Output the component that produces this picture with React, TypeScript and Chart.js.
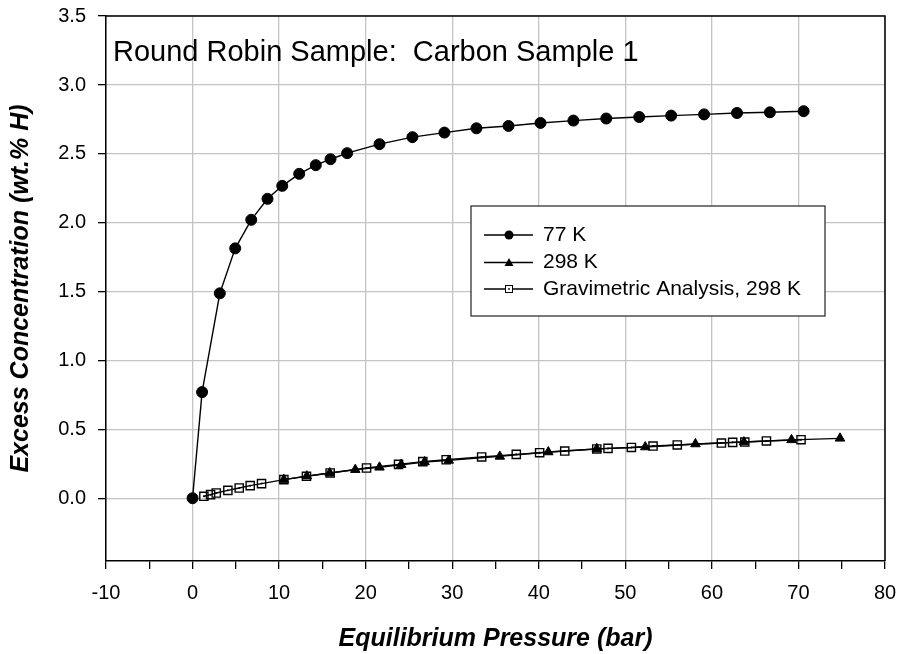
import React, { useEffect, useRef } from 'react';
import { Chart, registerables } from 'chart.js';

Chart.register(...registerables);

const chartTitle = 'Round Robin Sample:  Carbon Sample 1';
const xAxisTitle = 'Equilibrium Pressure (bar)';
const yAxisTitle = 'Excess Concentration (wt.% H)';
const seriesLabels = ['77 K', '298 K', 'Gravimetric Analysis, 298 K'];

// 77 K
const pressure77 = [0, 1.1, 3.15, 4.93, 6.78, 8.66, 10.36, 12.32, 14.24, 15.94, 17.86, 21.6, 25.4, 29.1, 32.8, 36.5, 40.2, 44.0, 47.8, 51.6, 55.3, 59.1, 62.9, 66.7, 70.6];
const conc77 = [0.005, 0.774, 1.49, 1.816, 2.023, 2.175, 2.269, 2.356, 2.419, 2.462, 2.506, 2.571, 2.622, 2.655, 2.686, 2.703, 2.725, 2.742, 2.757, 2.768, 2.778, 2.787, 2.797, 2.802, 2.81];

// 298 K
const pressure298 = [10.55, 13.2, 15.85, 18.8, 21.6, 24.1, 26.8, 29.6, 35.5, 41.1, 46.7, 52.3, 58.1, 63.7, 69.2, 74.8];
const conc298 = [0.14, 0.165, 0.188, 0.212, 0.229, 0.248, 0.268, 0.279, 0.308, 0.34, 0.363, 0.376, 0.398, 0.412, 0.428, 0.439];

// Gravimetric analysis, 298 K
const pressureGrav = [1.31, 2.08, 2.74, 4.08, 5.39, 6.66, 7.97, 10.55, 13.16, 15.9, 20.1, 23.8, 26.6, 29.3, 33.4, 37.4, 40.1, 43.0, 46.7, 48.0, 50.7, 53.2, 56.0, 61.1, 62.4, 63.8, 66.3, 70.3];
const concGrav = [0.019, 0.031, 0.043, 0.062, 0.079, 0.096, 0.111, 0.14, 0.164, 0.188, 0.224, 0.25, 0.27, 0.284, 0.304, 0.323, 0.335, 0.347, 0.362, 0.366, 0.373, 0.383, 0.391, 0.405, 0.41, 0.412, 0.42, 0.429];

const xTicks = [-10, -5, 0, 5, 10, 15, 20, 25, 30, 35, 40, 45, 50, 55, 60, 65, 70, 75, 80];
const yTicks = [0, 0.5, 1, 1.5, 2, 2.5, 3, 3.5];

const FONT = '"Liberation Sans", Arial, Helvetica, sans-serif';

const toPoints = (xs: number[], ys: number[]) => xs.map((x, i) => ({ x, y: ys[i] }));

const decorPlugin = {
  id: 'decor',
  afterDraw(chart: any) {
    const { ctx, chartArea: a } = chart;
    ctx.save();
    // top and right frame
    ctx.strokeStyle = '#000';
    ctx.lineWidth = 1.5;
    ctx.beginPath();
    ctx.moveTo(a.left, a.top);
    ctx.lineTo(a.right, a.top);
    ctx.lineTo(a.right, a.bottom);
    ctx.stroke();

    // in-plot title
    ctx.fillStyle = '#000';
    ctx.font = `29px ${FONT}`;
    ctx.textAlign = 'left';
    ctx.textBaseline = 'alphabetic';
    ctx.fillText(chartTitle, a.left + 7, a.top + 45);

    // legend box
    const bx = a.left + 365;
    const by = a.top + 190;
    const bw = 354;
    const bh = 110;
    ctx.fillStyle = '#fff';
    ctx.fillRect(bx, by, bw, bh);
    ctx.strokeStyle = '#222';
    ctx.lineWidth = 1.2;
    ctx.strokeRect(bx, by, bw, bh);

    const rows = [by + 29, by + 56.5, by + 83];
    const lx0 = bx + 13;
    const lx1 = bx + 62;
    const mx = bx + 38;
    ctx.font = `21px ${FONT}`;
    ctx.textBaseline = 'middle';
    seriesLabels.forEach((label, i) => {
      const y = rows[i];
      ctx.strokeStyle = '#000';
      ctx.lineWidth = 1.3;
      ctx.beginPath();
      ctx.moveTo(lx0, y);
      ctx.lineTo(lx1, y);
      ctx.stroke();
      ctx.fillStyle = '#000';
      if (i === 0) {
        ctx.beginPath();
        ctx.arc(mx, y, 4.5, 0, Math.PI * 2);
        ctx.fill();
      } else if (i === 1) {
        ctx.beginPath();
        ctx.moveTo(mx, y - 4.5);
        ctx.lineTo(mx + 4.5, y + 3.5);
        ctx.lineTo(mx - 4.5, y + 3.5);
        ctx.closePath();
        ctx.fill();
      } else {
        ctx.fillStyle = '#fff';
        ctx.fillRect(mx - 3.5, y - 3.5, 7, 7);
        ctx.strokeStyle = '#000';
        ctx.lineWidth = 1;
        ctx.strokeRect(mx - 3.5, y - 3.5, 7, 7);
        ctx.fillStyle = '#000';
        ctx.fillRect(mx - 0.8, y - 0.8, 1.6, 1.6);
      }
      ctx.fillStyle = '#000';
      ctx.fillText(label, bx + 72, y);
    });
    ctx.restore();
  },
};

export default function App() {
  const canvasRef = useRef<HTMLCanvasElement | null>(null);

  useEffect(() => {
    const canvas = canvasRef.current;
    if (!canvas) return;
    const chart = new Chart(canvas, {
      type: 'scatter',
      data: {
        datasets: [
          {
            label: seriesLabels[0],
            data: toPoints(pressure77, conc77),
            showLine: true,
            borderColor: '#000',
            borderWidth: 1.4,
            backgroundColor: '#000',
            pointStyle: 'circle',
            pointRadius: 5.5,
            pointBorderWidth: 1,
            pointBorderColor: '#000',
            pointBackgroundColor: '#000',
            tension: 0,
          },
          {
            label: seriesLabels[2] + ' center',
            data: toPoints(pressureGrav, concGrav),
            showLine: false,
            pointStyle: 'circle',
            pointRadius: 1,
            pointBorderWidth: 0,
            pointBackgroundColor: '#000',
          },
          {
            label: seriesLabels[2],
            data: toPoints(pressureGrav, concGrav),
            showLine: true,
            borderColor: '#000',
            borderWidth: 1.4,
            backgroundColor: 'transparent',
            pointStyle: 'rect',
            pointRadius: 5.8,
            pointBorderWidth: 1.4,
            pointBorderColor: '#000',
            pointBackgroundColor: 'rgba(0,0,0,0)',
            tension: 0,
          },
          {
            label: seriesLabels[1],
            data: toPoints(pressure298, conc298),
            showLine: true,
            borderColor: '#000',
            borderWidth: 1.4,
            backgroundColor: '#000',
            pointStyle: 'triangle',
            pointRadius: 5.5,
            pointBorderWidth: 1,
            pointBorderColor: '#000',
            pointBackgroundColor: '#000',
            tension: 0,
          },
        ],
      },
      options: {
        responsive: false,
        animation: false,
        devicePixelRatio: 1,
        layout: { padding: { left: 0, right: 14, top: 16, bottom: 0 } },
        plugins: {
          legend: { display: false },
          tooltip: { enabled: false },
          title: { display: false },
        },
        scales: {
          x: {
            type: 'linear',
            min: -10,
            max: 80,
            afterBuildTicks: (s: any) => {
              s.ticks = xTicks.map((v) => ({ value: v }));
            },
            afterFit: (s: any) => {
              s.height = 93;
              s.paddingLeft = 0;
              s.paddingRight = 0;
            },
            grid: {
              color: (c: any) => (c.tick && c.tick.value % 10 === 0 ? '#c4c4c4' : 'rgba(0,0,0,0)'),
              lineWidth: 1.3,
              tickColor: '#000',
              tickLength: 8,
              tickWidth: 1.3,
              drawTicks: true,
            },
            border: { color: '#000', width: 1.5 },
            ticks: {
              autoSkip: false,
              maxRotation: 0,
              padding: 12,
              color: '#000',
              font: { family: FONT, size: 20 },
              callback: (v: any) => (Number(v) % 10 === 0 ? String(v) : ''),
            },
            title: {
              display: true,
              text: xAxisTitle,
              color: '#000',
              font: { family: FONT, size: 25, weight: 'bold', style: 'italic' },
              padding: { top: 0, bottom: 0 },
            },
          },
          y: {
            type: 'linear',
            min: -0.45,
            max: 3.5,
            afterBuildTicks: (s: any) => {
              s.ticks = yTicks.map((v) => ({ value: v }));
            },
            afterFit: (s: any) => {
              s.width = 106;
              s.paddingTop = 0;
              s.paddingBottom = 0;
            },
            grid: {
              color: '#c4c4c4',
              lineWidth: 1.3,
              tickColor: '#000',
              tickLength: 8,
              tickWidth: 1.3,
              drawTicks: true,
            },
            border: { color: '#000', width: 1.5 },
            ticks: {
              padding: 12,
              color: '#000',
              font: { family: FONT, size: 20 },
              callback: (v: any) => Number(v).toFixed(1),
            },
            title: {
              display: true,
              text: yAxisTitle,
              color: '#000',
              font: { family: FONT, size: 25, weight: 'bold', style: 'italic' },
              padding: { top: 6, bottom: 0 },
            },
          },
        },
      },
      plugins: [decorPlugin],
    });
    return () => chart.destroy();
  }, []);

  return (
    <div style={{ position: 'absolute', left: 0, top: 0, width: 899, height: 654, background: '#fff' }}>
      <canvas ref={canvasRef} width={899} height={654} style={{ display: 'block', width: 899, height: 654 }} />
    </div>
  );
}
